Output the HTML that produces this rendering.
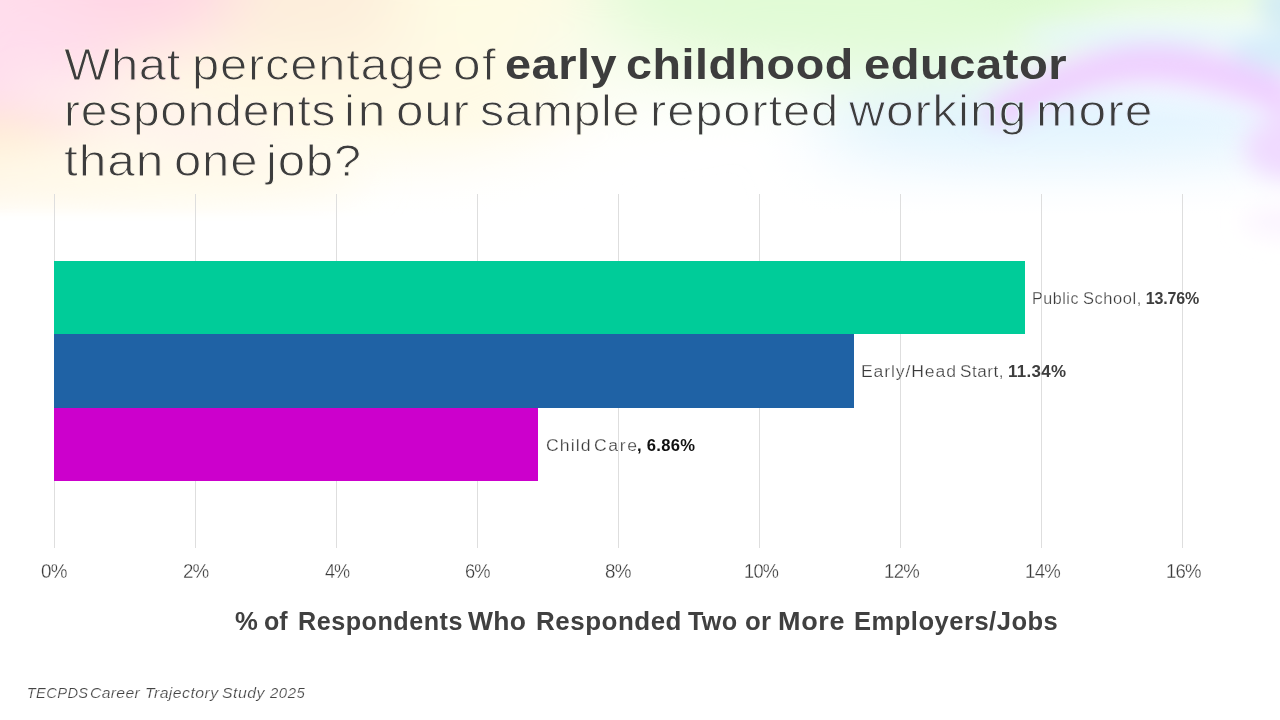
<!DOCTYPE html>
<html lang="en">
<head>
<meta charset="utf-8">
<title>Early childhood educators working more than one job</title>
<style>
html,body{margin:0;padding:0;}
body{width:1280px;height:720px;overflow:hidden;background:#fff;position:relative;font-family:"Liberation Sans",sans-serif;color:#3d3d3d;}
#bg{position:absolute;left:0;top:0;width:1280px;height:720px;}
#slide,#chart{position:absolute;left:0;top:0;width:1280px;height:720px;margin:0;}
h1,h2,p,footer{margin:0;padding:0;font-weight:400;font-size:inherit;}
h1 span,h1 b,h2 span,p span,p b,footer span{position:absolute;white-space:pre;line-height:1;transform-origin:0 0;}
#title{font-size:43px;font-weight:400;color:#3d3d3d;}
#title b{font-weight:700;}
.grid{position:absolute;top:194px;width:1px;height:354px;background:#dedede;}
.bar{position:absolute;left:54px;}
.lbl{font-size:16px;color:#3a3a3a;}
.lbl b{font-weight:700;color:#3d3d3d;}
.lbl b.k{color:#111;}
.tick{position:absolute;font-size:19.5px;line-height:1;color:#3a3a3a;-webkit-text-stroke:0.3px #fff;white-space:pre;transform-origin:0 0;}
#xtitle{font-size:25px;font-weight:700;color:#404040;}
#src{font-size:14.67px;font-style:italic;color:#444;}
</style>
</head>
<body>
<svg id="bg" width="1280" height="720" viewBox="0 0 1280 720" aria-hidden="true">
  <defs>
    <filter id="bl" x="-50%" y="-50%" width="200%" height="200%"><feGaussianBlur stdDeviation="34"/></filter>
    <filter id="bm" x="-50%" y="-50%" width="200%" height="200%"><feGaussianBlur stdDeviation="20"/></filter>
    <filter id="bx" x="-10%" y="-50%" width="120%" height="200%"><feGaussianBlur stdDeviation="4"/></filter>
    <filter id="bs" x="-50%" y="-50%" width="200%" height="200%"><feGaussianBlur stdDeviation="12"/></filter>
    <linearGradient id="fade" x1="0" y1="0" x2="0" y2="1">
      <stop offset="0" stop-color="#fff" stop-opacity="0"/>
      <stop offset="0.6" stop-color="#fff" stop-opacity="0.55"/>
      <stop offset="1" stop-color="#fff" stop-opacity="1"/>
    </linearGradient>
  </defs>
  <rect width="1280" height="720" fill="#fff"/>
  <g filter="url(#bl)">
    <ellipse cx="300" cy="60" rx="310" ry="135" fill="#fffae6"/>
    <ellipse cx="290" cy="-20" rx="190" ry="80" fill="#fdeedb"/>
    <ellipse cx="500" cy="-10" rx="110" ry="70" fill="#fefbe3"/>
    <ellipse cx="640" cy="60" rx="120" ry="40" fill="#f9fdee"/>
    <ellipse cx="0" cy="185" rx="130" ry="55" fill="#ffe6c8"/>
    <ellipse cx="90" cy="-10" rx="150" ry="70" fill="#ffd6e4"/>
    <ellipse cx="0" cy="70" rx="110" ry="90" fill="#ffdeed"/>
    <ellipse cx="860" cy="-15" rx="270" ry="95" fill="#e1fbd6"/>
    <ellipse cx="1150" cy="-25" rx="210" ry="38" fill="#d9f9cd"/>
    <ellipse cx="1060" cy="140" rx="250" ry="55" fill="#dff3fe"/>
  </g>
  <rect x="0" y="120" width="1280" height="95" fill="url(#fade)"/>
  <rect x="0" y="215" width="1280" height="505" fill="#fff"/>
  <g filter="url(#bs)">
    <ellipse cx="1150" cy="36" rx="130" ry="12" fill="#e4f7fb"/>
    <ellipse cx="1285" cy="52" rx="55" ry="20" fill="#d6edfa"/>
    <ellipse cx="1290" cy="5" rx="32" ry="26" fill="#d3ecf4"/>
    <path d="M975 112 C1040 66 1100 44 1150 44 C1200 44 1250 60 1295 82 L1295 122 C1250 100 1200 84 1150 82 C1100 82 1050 100 1005 128 Z" fill="#efcfff"/>
    <ellipse cx="1290" cy="148" rx="46" ry="32" fill="#f0daff"/>
    <ellipse cx="1288" cy="222" rx="45" ry="14" fill="#fbf3ff"/>
  </g>
  <g filter="url(#bm)">
    <ellipse cx="-10" cy="158" rx="75" ry="42" fill="#ffecd4"/>
    <ellipse cx="150" cy="118" rx="150" ry="18" fill="#fff0ee" transform="rotate(14 150 118)"/>
    <ellipse cx="150" cy="175" rx="220" ry="30" fill="#fffaea"/>
  </g>
  <rect x="-20" y="216" width="1000" height="60" fill="#fff" filter="url(#bx)"/>
</svg>
<main id="slide">
  <h1 id="title"><span style="left:64.3px;top:42.6px;letter-spacing:0.6px;transform:scaleX(1.113);font-size:44px;-webkit-text-stroke:1px #ffe9e8">What</span> <span style="left:192.3px;top:42.6px;letter-spacing:0.75px;transform:scaleX(1.109);font-size:44px;-webkit-text-stroke:1px #fff6e3">percentage</span> <span style="left:452.5px;top:42.6px;letter-spacing:1.2px;transform:scaleX(1.13);font-size:44px;-webkit-text-stroke:1px #fffbe5">of</span> <b style="left:505.1px;top:43px;letter-spacing:0.5px;transform:scaleX(1.09)">early</b> <b style="left:625.5px;top:43px;letter-spacing:0.5px;transform:scaleX(1.085)">childhood</b> <b style="left:864.3px;top:43px;letter-spacing:0.45px;transform:scaleX(1.097)">educator</b> <span style="left:63.5px;top:88.9px;letter-spacing:0.7px;transform:scaleX(1.09);font-size:44px;-webkit-text-stroke:1px #fff5e9">respondents</span> <span style="left:344.3px;top:88.9px;letter-spacing:2.3px;transform:scaleX(1.13);font-size:44px;-webkit-text-stroke:1px #fffae7">in</span> <span style="left:396.2px;top:88.9px;letter-spacing:0.65px;transform:scaleX(1.127);font-size:44px;-webkit-text-stroke:1px #fffae7">our</span> <span style="left:480px;top:88.9px;letter-spacing:0.55px;transform:scaleX(1.103);font-size:44px;-webkit-text-stroke:1px #fefcf0">sample</span> <span style="left:649.9px;top:88.9px;letter-spacing:0.8px;transform:scaleX(1.111);font-size:44px;-webkit-text-stroke:1px #f9fef9">reported</span> <span style="left:848.9px;top:88.9px;letter-spacing:0.9px;transform:scaleX(1.13);font-size:44px;-webkit-text-stroke:1px #e7f2fa">working</span> <span style="left:1036.1px;top:88.9px;letter-spacing:0.95px;transform:scaleX(1.13);font-size:44px;-webkit-text-stroke:1px #e7f1fe">more</span> <span style="left:64.3px;top:138.8px;letter-spacing:0.8px;transform:scaleX(1.13);font-size:44px;-webkit-text-stroke:1px #fff8ea">than</span> <span style="left:173.8px;top:138.8px;letter-spacing:0.7px;transform:scaleX(1.115);font-size:44px;-webkit-text-stroke:1px #fff8ec">one</span> <span style="left:265.9px;top:138.8px;letter-spacing:0.65px;transform:scaleX(1.118);font-size:44px;-webkit-text-stroke:1px #fffbee">job?</span></h1>
  <section id="chart" aria-label="Bar chart">
    <i class="grid" style="left:54px"></i>
    <i class="grid" style="left:195px"></i>
    <i class="grid" style="left:336px"></i>
    <i class="grid" style="left:477px"></i>
    <i class="grid" style="left:618px"></i>
    <i class="grid" style="left:759px"></i>
    <i class="grid" style="left:900px"></i>
    <i class="grid" style="left:1041px"></i>
    <i class="grid" style="left:1182px"></i>
    <div class="bar" style="top:261px;width:971px;height:73px;background:#00cc99"></div>
    <div class="bar" style="top:334px;width:800px;height:74px;background:#1f62a5"></div>
    <div class="bar" style="top:408px;width:484px;height:73px;background:#cc00cc"></div>
    <p class="lbl"><span style="left:1032.3px;top:291px;letter-spacing:0.55px;transform:scaleX(1.003);-webkit-text-stroke:0.25px #ffffff">Public</span> <span style="left:1083.1px;top:291px;letter-spacing:0.55px;transform:scaleX(1.027);-webkit-text-stroke:0.25px #ffffff">School,</span> <b style="left:1145.7px;top:291px;letter-spacing:-0.15px">13.76%</b></p>
    <p class="lbl"><span style="left:861.3px;top:364px;letter-spacing:0.8px;transform:scaleX(1.1);-webkit-text-stroke:0.25px #ffffff">Early/Head</span> <span style="left:959.5px;top:364px;letter-spacing:0.45px;transform:scaleX(1.072);-webkit-text-stroke:0.25px #ffffff">Start,</span> <b style="left:1007.9px;top:364px;letter-spacing:0.3px;transform:scaleX(1.058)">11.34%</b></p>
    <p class="lbl"><span style="left:545.6px;top:438px;letter-spacing:1px;transform:scaleX(1.1);-webkit-text-stroke:0.25px #ffffff">Child</span> <span style="left:593.5px;top:438px;letter-spacing:1.45px;transform:scaleX(1.1);-webkit-text-stroke:0.25px #ffffff">Care</span><b class="k" style="left:637.3px;top:438px;letter-spacing:0.3px;transform:scaleX(1.036)">, 6.86%</b></p>
    <h2 id="xtitle"><span style="left:234.8px;top:609px;letter-spacing:0px;transform:scaleX(1.027)">%</span> <span style="left:264.1px;top:609px;letter-spacing:0px">of</span> <span style="left:297.5px;top:609px;letter-spacing:0.5px;transform:scaleX(1.007)">Respondents</span> <span style="left:467.5px;top:609px;letter-spacing:0.25px;transform:scaleX(1.058)">Who</span> <span style="left:535.7px;top:609px;letter-spacing:0.5px;transform:scaleX(1.038)">Responded</span> <span style="left:688.1px;top:609px;letter-spacing:0.3px;transform:scaleX(1.009)">Two</span> <span style="left:745.3px;top:609px;letter-spacing:0.35px;transform:scaleX(1.031)">or</span> <span style="left:778px;top:609px;letter-spacing:0.6px;transform:scaleX(1.08)">More</span> <span style="left:853.6px;top:609px;letter-spacing:0.5px;transform:scaleX(1.021)">Employers/Jobs</span></h2>
    <span class="tick" style="left:41.4px;top:562.2px;letter-spacing:-0.7px;transform:scaleX(0.965)">0%</span>
    <span class="tick" style="left:182.5px;top:562.2px;letter-spacing:-1.1px;transform:scaleX(0.963)">2%</span>
    <span class="tick" style="left:324.6px;top:562.2px;letter-spacing:-1.2px;transform:scaleX(0.929)">4%</span>
    <span class="tick" style="left:465.2px;top:562.2px;letter-spacing:-1.05px;transform:scaleX(0.94)">6%</span>
    <span class="tick" style="left:605.1px;top:562.2px;letter-spacing:-0.65px;transform:scaleX(0.967)">8%</span>
    <span class="tick" style="left:743.8px;top:562.2px;letter-spacing:-0.75px;transform:scaleX(0.932)">10%</span>
    <span class="tick" style="left:884.2px;top:562.2px;letter-spacing:-0.7px;transform:scaleX(0.953)">12%</span>
    <span class="tick" style="left:1025px;top:562.2px;letter-spacing:-0.7px;transform:scaleX(0.953)">14%</span>
    <span class="tick" style="left:1166.3px;top:562.2px;letter-spacing:-0.85px;transform:scaleX(0.952)">16%</span>
  </section>
  <footer id="src"><span style="left:26.7px;top:686.2px;letter-spacing:0.4px;-webkit-text-stroke:0.2px #ffffff">TECPDS</span> <span style="left:90.4px;top:686.2px;letter-spacing:0.3px;transform:scaleX(1.074);-webkit-text-stroke:0.2px #ffffff">Career</span> <span style="left:145px;top:686.2px;letter-spacing:0.4px;transform:scaleX(1.08);-webkit-text-stroke:0.2px #ffffff">Trajectory</span> <span style="left:222px;top:686.2px;letter-spacing:0.45px;transform:scaleX(1.08);-webkit-text-stroke:0.2px #ffffff">Study</span> <span style="left:269.8px;top:686.2px;letter-spacing:0.5px;transform:scaleX(1.02);-webkit-text-stroke:0.2px #ffffff">2025</span></footer>
</main>
</body>
</html>
